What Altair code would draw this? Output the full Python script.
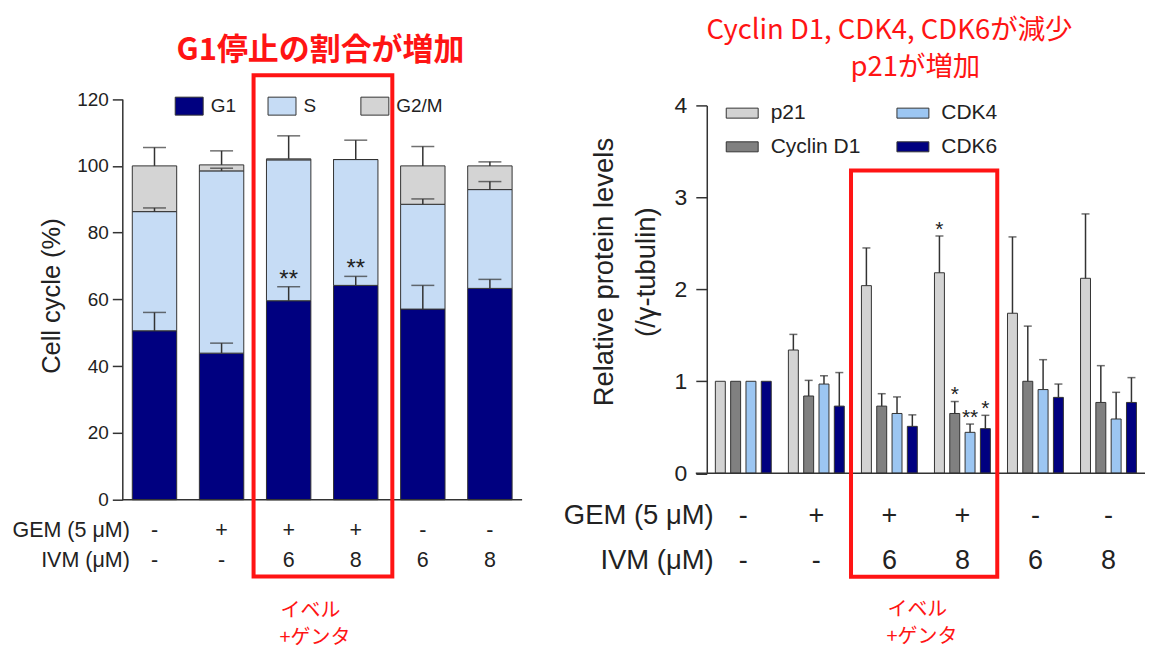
import altair as alt
import pandas as pd

# ---------------- data ----------------
conds = ["c1", "c2", "c3", "c4", "c5", "c6"]
gem_signs = ["-", "+", "+", "+", "-", "-"]
ivm_signs = ["-", "-", "6", "8", "6", "8"]

# left: cell cycle (%)
phases = ["G1", "S", "G2/M"]
phase_colors = ["#000080", "#c6dcf5", "#d4d4d4"]
g1 = [50.6, 43.9, 59.6, 64.2, 57.1, 63.3]
s_ph = [35.7, 54.6, 42.2, 37.7, 31.4, 29.6]
g2m = [13.7, 1.8, 0.3, 0.0, 11.5, 7.1]
g1_sd = [5.5, 3.0, 4.2, 2.7, 7.1, 2.7]
s_sd = [1.1, 0.8, 0.0, 0.0, 1.6, 2.4]
g2m_sd = [5.5, 4.2, 6.9, 5.8, 5.8, 1.2]
cc_stars = ["", "", "**", "**", "", ""]
left_ticks = [0, 20, 40, 60, 80, 100, 120]

# right: relative protein levels
proteins = ["p21", "Cyclin D1", "CDK4", "CDK6"]
legend_order = ["p21", "CDK4", "Cyclin D1", "CDK6"]
legend_colors = ["#d3d3d3", "#9cc6f2", "#808080", "#000080"]
p21 = [1.0, 1.34, 2.04, 2.18, 1.74, 2.12]
p21_sd = [0, 0.17, 0.41, 0.40, 0.83, 0.70]
cycd1 = [1.0, 0.84, 0.73, 0.65, 1.00, 0.77]
cycd1_sd = [0, 0.17, 0.135, 0.13, 0.60, 0.40]
cdk4 = [1.0, 0.97, 0.65, 0.445, 0.91, 0.59]
cdk4_sd = [0, 0.09, 0.18, 0.09, 0.325, 0.29]
cdk6 = [1.0, 0.73, 0.51, 0.485, 0.825, 0.77]
cdk6_sd = [0, 0.365, 0.125, 0.145, 0.145, 0.27]
p21_stars = ["", "", "", "*", "", ""]
cycd1_stars = ["", "", "", "*", "", ""]
cdk4_stars = ["", "", "", "**", "", ""]
cdk6_stars = ["", "", "", "*", "", ""]
right_ticks = [0, 1, 2, 3, 4]

# ---------------- tables ----------------
rows = []
for i, c in enumerate(conds):
    for o, (p, v, sd) in enumerate(zip(phases, [g1[i], s_ph[i], g2m[i]],
                                         [g1_sd[i], s_sd[i], g2m_sd[i]])):
        rows.append(dict(cond=c, phase=p, value=v, sd=sd, ord=o))
cc = pd.DataFrame(rows)
cc["top"] = cc.groupby("cond")["value"].cumsum()
cc["err"] = cc["top"] + cc["sd"]
cc_err = cc[cc["sd"] > 0]
cc_star = pd.DataFrame({
    "cond": conds, "star": cc_stars,
    "sy": [g1[i] + g1_sd[i] + 3.0 for i in range(6)],
})
cc_star = cc_star[cc_star["star"] != ""]
signs = pd.DataFrame({"cond": conds, "gem": gem_signs, "ivm": ivm_signs})

prow = []
vals = [p21, cycd1, cdk4, cdk6]
sds = [p21_sd, cycd1_sd, cdk4_sd, cdk6_sd]
stars = [p21_stars, cycd1_stars, cdk4_stars, cdk6_stars]
for j, p in enumerate(proteins):
    for i, c in enumerate(conds):
        prow.append(dict(cond=c, protein=p, val=vals[j][i], sd=sds[j][i],
                         errtop=vals[j][i] + sds[j][i], star=stars[j][i],
                         sy=vals[j][i] + sds[j][i] + 0.1))
pr = pd.DataFrame(prow)
pr_err = pr[pr["sd"] > 0]
pr_star = pr[pr["star"] != ""]

def one(txt=""):
    return pd.DataFrame({"t": [txt]})

W1, W2, H = 532, 608, 644
AX = "#333333"
TXT = "#222222"
RED = "#ff1414"
JP = "Noto Sans CJK JP"
SANS = "Liberation Sans"

# ---------------- left panel ----------------
LX0, LX1, LY0, LY1 = 114.5, 515, 486, 84.7
xl_scale = alt.Scale(domain=conds, range=[LX0, LX1], paddingInner=0.338, paddingOuter=0.149)
yl_scale = alt.Scale(domain=[0, 120], range=[LY0, LY1], nice=False)
yl_axis = alt.Axis(values=left_ticks, offset=-LX0, tickSize=10,
                   labelFontSize=19, labelPadding=4, labelColor=TXT, labelFont=SANS,
                   domainColor=AX, tickColor=AX, domainWidth=1.5, tickWidth=1.5,
                   title=None, grid=False)
XL = lambda: alt.X("cond:N", sort=conds, scale=xl_scale, axis=None)
YL = lambda f, **k: alt.Y(f, scale=yl_scale, axis=yl_axis, **k)

bars_l = alt.Chart(cc).mark_bar(stroke=AX, strokeWidth=1).encode(
    x=XL(),
    y=YL("value:Q", stack="zero"),
    color=alt.Color("phase:N", scale=alt.Scale(domain=phases, range=phase_colors),
                    legend=alt.Legend(orient="none", legendX=167, legendY=77, direction="horizontal",
                                      columns=3, title=None, symbolType="M-1,-0.643H1V0.643H-1Z",
                                      symbolSize=784, symbolStrokeColor=AX, symbolStrokeWidth=1,
                                      labelFontSize=19, labelFont=SANS, labelColor=TXT,
                                      labelOffset=7, columnPadding=8, gridAlign="all",
                                      padding=0, symbolOpacity=1)),
    order=alt.Order("ord:Q"),
)
err_l = alt.Chart(cc_err).mark_rule(color=AX, strokeWidth=1.5).encode(
    x=XL(), y=YL("top:Q"), y2="err:Q")
cap_l = alt.Chart(cc_err).mark_tick(color=AX, thickness=1.5, size=23, orient="horizontal").encode(
    x=XL(), y=YL("err:Q"))
star_l = alt.Chart(cc_star).mark_text(fontSize=24, font=SANS, color=TXT, baseline="middle",
                                      dy=3).encode(
    x=XL(), y=YL("sy:Q"), text="star:N")
base_l = alt.Chart(one()).mark_rule(color=AX, strokeWidth=1.5).encode(
    x=alt.value(LX0), x2=alt.value(LX1), y=alt.value(LY0))
gem_l = alt.Chart(signs).mark_text(fontSize=21.5, font=SANS, color=TXT, baseline="middle").encode(
    x=XL(), y=alt.value(517.7), text="gem:N")
ivm_l = alt.Chart(signs).mark_text(fontSize=21.5, font=SANS, color=TXT, baseline="middle").encode(
    x=XL(), y=alt.value(547.7), text="ivm:N")
gemlab_l = alt.Chart(one("GEM (5 μM)")).mark_text(fontSize=21.5, font=SANS, color=TXT, align="right",
                                                  baseline="middle").encode(
    x=alt.value(122), y=alt.value(517.7), text="t:N")
ivmlab_l = alt.Chart(one("IVM (μM)")).mark_text(fontSize=21.5, font=SANS, color=TXT, align="right",
                                                baseline="middle").encode(
    x=alt.value(122), y=alt.value(547.7), text="t:N")
ytitle_l = alt.Chart(one("Cell cycle (%)")).mark_text(fontSize=25.5, font=SANS, color=TXT, angle=270,
                                                      baseline="middle").encode(
    x=alt.value(44), y=alt.value(282), text="t:N")
box_l = alt.Chart(one()).mark_rect(fillOpacity=0, stroke=RED, strokeWidth=4).encode(
    x=alt.value(246), x2=alt.value(385), y=alt.value(60.7), y2=alt.value(563))
title_l = alt.Chart(one("G1停止の割合が増加")).mark_text(fontSize=31, font=JP, fontWeight="bold",
                                                         color=RED, baseline="middle").encode(
    x=alt.value(313), y=alt.value(37), text="t:N")
note1_l = alt.Chart(one("イベル")).mark_text(fontSize=20, font=JP, color=RED, align="left",
                                          baseline="middle").encode(
    x=alt.value(273), y=alt.value(597), text="t:N")
note2_l = alt.Chart(one("+ゲンタ")).mark_text(fontSize=20, font=JP, color=RED, align="left",
                                           baseline="middle").encode(
    x=alt.value(272), y=alt.value(625), text="t:N")

left = alt.layer(bars_l, err_l, cap_l, star_l, base_l, gem_l, ivm_l, gemlab_l, ivmlab_l,
                 ytitle_l, box_l, title_l, note1_l, note2_l).properties(width=W1, height=H)

# ---------------- right panel ----------------
RX0, RX1, RY0, RY1 = 168, 607, 459.5, 91
xr_scale = alt.Scale(domain=conds, range=[RX0, RX1], paddingInner=0, paddingOuter=0)
xo_scale = alt.Scale(domain=proteins, paddingInner=0.35, paddingOuter=0.56)
yr_scale = alt.Scale(domain=[0, 4], range=[RY0, RY1], nice=False)
yr_axis = alt.Axis(values=right_ticks, offset=-RX0, tickSize=11,
                   labelFontSize=23, labelPadding=9, labelColor=TXT, labelFont=SANS,
                   domainColor=AX, tickColor=AX, domainWidth=1.5, tickWidth=1.5,
                   title=None, grid=False)
XR = lambda: alt.X("cond:N", sort=conds, scale=xr_scale, axis=None)
XO = lambda: alt.XOffset("protein:N", sort=proteins, scale=xo_scale)
YR = lambda f: alt.Y(f, scale=yr_scale, axis=yr_axis)

bars_r = alt.Chart(pr).mark_bar(stroke=AX, strokeWidth=1).encode(
    x=XR(), xOffset=XO(),
    y=YR("val:Q"),
    color=alt.Color("protein:N", scale=alt.Scale(domain=legend_order, range=legend_colors),
                    legend=alt.Legend(orient="none", legendX=187, legendY=82, direction="horizontal",
                                      columns=2, title=None, symbolType="M-1,-0.3125H1V0.3125H-1Z",
                                      symbolSize=1024, symbolStrokeColor=AX, symbolStrokeWidth=1,
                                      labelFontSize=21, labelFont=SANS, labelColor=TXT,
                                      labelOffset=12, columnPadding=34, rowPadding=7,
                                      gridAlign="all", padding=0, symbolOpacity=1)),
)
err_r = alt.Chart(pr_err).mark_rule(color=AX, strokeWidth=1.5).encode(
    x=XR(), xOffset=XO(), y=YR("val:Q"), y2="errtop:Q")
cap_r = alt.Chart(pr_err).mark_tick(color=AX, thickness=1.5, size=8, orient="horizontal").encode(
    x=XR(), xOffset=XO(), y=YR("errtop:Q"))
star_r = alt.Chart(pr_star).mark_text(fontSize=21, font=SANS, color=TXT, baseline="middle",
                                      dy=3).encode(
    x=XR(), xOffset=XO(), y=YR("sy:Q"), text="star:N")
base_r = alt.Chart(one()).mark_rule(color=AX, strokeWidth=1.5).encode(
    x=alt.value(157), x2=alt.value(RX1), y=alt.value(RY0))
gem_r = alt.Chart(signs).mark_text(fontSize=27, font=SANS, color=TXT, baseline="middle").encode(
    x=XR(), y=alt.value(502.7), text="gem:N")
ivm_r = alt.Chart(signs).mark_text(fontSize=27, font=SANS, color=TXT, baseline="middle").encode(
    x=XR(), y=alt.value(547.7), text="ivm:N")
gemlab_r = alt.Chart(one("GEM (5 μM)")).mark_text(fontSize=27.5, font=SANS, color=TXT, align="right",
                                                  baseline="middle").encode(
    x=alt.value(175), y=alt.value(502.7), text="t:N")
ivmlab_r = alt.Chart(one("IVM (μM)")).mark_text(fontSize=27.5, font=SANS, color=TXT, align="right",
                                                baseline="middle").encode(
    x=alt.value(175), y=alt.value(547.7), text="t:N")
ytitle_r1 = alt.Chart(one("Relative protein levels")).mark_text(fontSize=27.5, font=SANS, color=TXT,
                                                                angle=270, baseline="middle").encode(
    x=alt.value(66), y=alt.value(258), text="t:N")
ytitle_r2 = alt.Chart(one("(/γ-tubulin)")).mark_text(fontSize=27.5, font=SANS, color=TXT,
                                                     angle=270, baseline="middle").encode(
    x=alt.value(108), y=alt.value(258), text="t:N")
box_r = alt.Chart(one()).mark_rect(fillOpacity=0, stroke=RED, strokeWidth=4).encode(
    x=alt.value(312.5), x2=alt.value(459), y=alt.value(156.3), y2=alt.value(563.3))
title_r1 = alt.Chart(one("Cyclin D1, CDK4, CDK6が減少")).mark_text(fontSize=27.5, font=JP, color=RED,
                                                                   baseline="middle").encode(
    x=alt.value(351), y=alt.value(16), text="t:N")
title_r2 = alt.Chart(one("p21が増加")).mark_text(fontSize=27.5, font=JP, color=RED,
                                              baseline="middle").encode(
    x=alt.value(377), y=alt.value(54), text="t:N")
note1_r = alt.Chart(one("イベル")).mark_text(fontSize=20, font=JP, color=RED, align="left",
                                          baseline="middle").encode(
    x=alt.value(349), y=alt.value(596), text="t:N")
note2_r = alt.Chart(one("+ゲンタ")).mark_text(fontSize=20, font=JP, color=RED, align="left",
                                           baseline="middle").encode(
    x=alt.value(348), y=alt.value(624), text="t:N")

right = alt.layer(bars_r, err_r, cap_r, star_r, base_r, gem_r, ivm_r, gemlab_r, ivmlab_r,
                  ytitle_r1, ytitle_r2, box_r, title_r1, title_r2, note1_r, note2_r
                  ).properties(width=W2, height=H)

chart = alt.hconcat(left, right, spacing=0).resolve_scale(
    color="independent", x="independent", y="independent", xOffset="independent"
).properties(padding={"left": 0, "top": 6, "right": 0, "bottom": 0}
).configure_view(stroke=None).configure_axis(grid=False)

chart.save("out.html", embed_options={"renderer": "svg", "actions": False})
